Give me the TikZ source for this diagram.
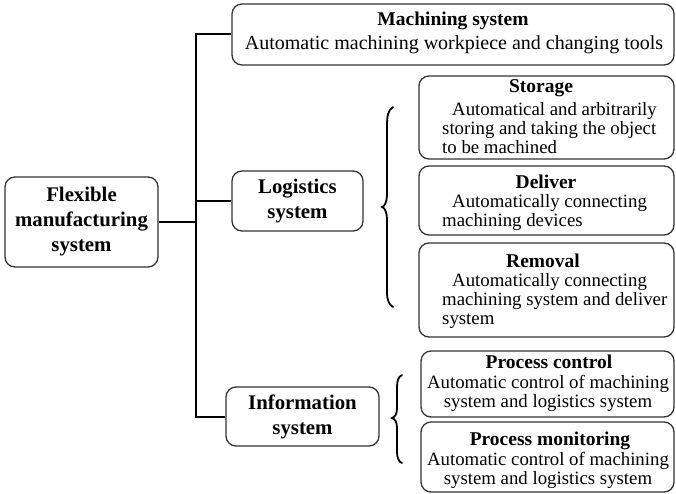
\documentclass[tikz,border=0pt]{standalone}
\usepackage{fontspec}
\setmainfont{Liberation Serif}
\begin{document}
\begin{tikzpicture}[x=1pt,y=-1pt,
  box/.style={draw=black!80, line width=1.3pt, rounded corners=10pt, inner sep=0pt},
  conn/.style={line width=2pt, black},
  brc/.style={line width=1.8pt, black, line cap=round},
  txt/.style={inner sep=0pt, font=\fontsize{18.8}{19}\selectfont},
  ttl/.style={inner sep=0pt, font=\fontsize{19.5}{19.5}\selectfont\bfseries},
  big/.style={font=\fontsize{20.8}{25}\selectfont\bfseries, align=center}]
\useasboundingbox (0,0) rectangle (676,494);
% left column
\node[box, big, minimum width=153pt, minimum height=90pt] (flex) at (81.5,222) {Flexible\\manufacturing\\system};
\node[box, big, minimum width=131pt, minimum height=60pt] (logi) at (297.5,201) {Logistics\\system};
\node[box, big, minimum width=153pt, minimum height=59pt] (info) at (302.5,416.5) {Information\\system};
% machining
\node[box, minimum width=442pt, minimum height=61pt] (mach) at (453,34.5) {};
\node[ttl] (machT) at (453,21) {Machining system};
\node[txt, font=\fontsize{20}{20}\selectfont] (machB) at (454,45) {Automatic machining workpiece and changing tools};
% logistics children
\node[box, minimum width=255pt, minimum height=83pt] (stor) at (546.5,117.5) {};
\node[ttl] (storT) at (541,88) {Storage};
\node[txt, anchor=west, align=left] (storB) at (442,128) {\hspace*{10pt}Automatical and arbitrarily\\storing and taking the object\\to be machined};
\node[box, minimum width=255pt, minimum height=69pt] (deli) at (546.5,200.5) {};
\node[ttl] (deliT) at (546,182) {Deliver};
\node[txt, anchor=west, align=left] (deliB) at (442,213) {\hspace*{10pt}Automatically connecting\\machining devices};
\node[box, minimum width=255pt, minimum height=94pt] (remo) at (546.5,290) {};
\node[ttl] (remoT) at (543,261) {Removal};
\node[txt, anchor=west, align=left] (remoB) at (442,301) {\hspace*{10pt}Automatically connecting\\machining system and deliver\\system};
% information children
\node[box, minimum width=253pt, minimum height=66pt] (pc) at (547.5,384) {};
\node[ttl] (pcT) at (549,362) {Process control};
\node[txt, align=center] (pcB) at (548,393) {Automatic control of machining\\system and logistics system};
\node[box, minimum width=253pt, minimum height=70pt] (pm) at (547.5,457) {};
\node[ttl] (pmT) at (550,441) {Process monitoring};
\node[txt, align=center] (pmB) at (548,470.5) {Automatic control of machining\\system and logistics system};
% connectors
\coordinate (j1) at (196,34.5);
\coordinate (j2) at (196,416.5);
\draw[conn] (mach.west) -- (j1) -- (j2) -- (info.west);
\draw[conn] (flex.east) -- (flex.east -| j1);
\draw[conn] (logi.west) -- (logi.west -| j1);
% braces
\draw[brc] (393,107) .. controls (388,110) and (387,116) .. (387,126) -- (387,193)
  .. controls (387,202) and (385,206) .. (382,207)
  .. controls (385,208) and (387,212) .. (387,221) -- (387,292)
  .. controls (387,300) and (389,305) .. (393,307);
\draw[brc] (402,375) .. controls (398,377) and (397,381) .. (397,388) -- (397,408)
  .. controls (397,414) and (395,417) .. (392,418)
  .. controls (395,419) and (397,422) .. (397,428) -- (397,452)
  .. controls (397,458) and (399,462) .. (402,463);
\end{tikzpicture}
\end{document}
